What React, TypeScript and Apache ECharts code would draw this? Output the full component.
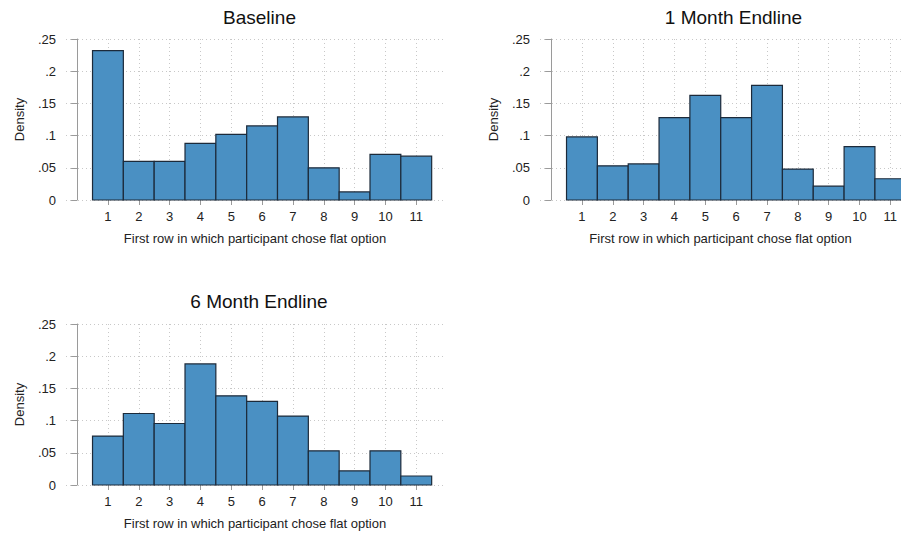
import React, { useEffect, useRef } from "react";
import * as echarts from "echarts";

const categories = [1, 2, 3, 4, 5, 6, 7, 8, 9, 10, 11];
const baseline = [0.232, 0.06, 0.06, 0.088, 0.102, 0.115, 0.129, 0.05, 0.0125, 0.071, 0.068];
const month1 = [0.098, 0.053, 0.056, 0.128, 0.1625, 0.128, 0.178, 0.048, 0.0215, 0.083, 0.033];
const month6 = [0.076, 0.111, 0.0955, 0.188, 0.1385, 0.13, 0.107, 0.053, 0.022, 0.053, 0.014];
const yTickLabels = ["0", ".05", ".1", ".15", ".2", ".25"];
const titles = ["Baseline", "1 Month Endline", "6 Month Endline"];
const xTitle = "First row in which participant chose flat option";
const yTitle = "Density";

const FONT = "'Liberation Sans', Arial, sans-serif";

export default function App() {
  const ref = useRef<HTMLDivElement>(null);
  useEffect(() => {
    if (!ref.current) return;
    const chart = echarts.init(ref.current, null, { renderer: "svg" });
    const panels = [
      { data: baseline, left: 66, top: 39, width: 378, max: 11.9, cx: 254.5, ty: 3 },
      { data: month1, left: 540, top: 39, width: 361, max: 11.345, cx: 728.5, ty: 3 },
      { data: month6, left: 66, top: 324, width: 378, max: 11.9, cx: 254, ty: 287 },
    ];
    const grid = panels.map((p) => ({ left: p.left, top: p.top, width: p.width, height: 161 }));
    const xAxis = panels.map((p, i) => ({
      type: "value",
      gridIndex: i,
      min: -0.36,
      max: p.max,
      offset: 1,
      axisLine: { show: false },
      axisTick: { show: true, customValues: categories, length: 5, lineStyle: { color: "#9a9a9a" } },
      axisLabel: { customValues: categories, fontSize: 13, color: "#222", fontFamily: FONT, margin: 9 },
      splitLine: { show: true, lineStyle: { color: "#c8c8c8", type: [1, 3], width: 1 } },
      name: xTitle,
      nameLocation: "middle",
      nameGap: 31,
      nameTextStyle: { fontSize: 13, color: "#222", fontFamily: FONT },
    }));
    const yAxis = panels.map((p, i) => ({
      type: "value",
      gridIndex: i,
      min: 0,
      max: 0.25,
      interval: 0.05,
      axisLine: { show: true, lineStyle: { color: "#9a9a9a" } },
      axisTick: { show: true, length: 6, lineStyle: { color: "#9a9a9a" } },
      axisLabel: {
        fontSize: 13,
        color: "#222",
        fontFamily: FONT,
        margin: 10,
        formatter: (_v: number, idx: number) => yTickLabels[idx],
      },
      splitLine: { show: true, lineStyle: { color: "#c8c8c8", type: [1, 3], width: 1 } },
      name: yTitle,
      nameLocation: "middle",
      nameGap: 40,
      nameTextStyle: { fontSize: 13, color: "#222", fontFamily: FONT },
    }));
    const series = panels.map((p, i) => ({
      type: "custom",
      xAxisIndex: i,
      yAxisIndex: i,
      clip: false,
      data: categories.map((c, k) => [c, p.data[k]]),
      renderItem: (params: any, api: any) => {
        const x = api.value(0);
        const y = api.value(1);
        const p0 = api.coord([x - 0.5, y]);
        const p1 = api.coord([x + 0.5, 0]);
        return {
          type: "rect",
          shape: { x: p0[0], y: p0[1], width: p1[0] - p0[0], height: p1[1] - p0[1] },
          style: { fill: "#4a90c3", stroke: "#1c2a3a", lineWidth: 1.2 },
        };
      },
    }));
    const title = panels.map((p, i) => ({
      text: titles[i],
      left: p.cx,
      top: p.ty,
      textAlign: "center",
      textStyle: { fontSize: 19, fontWeight: "normal", color: "#111", fontFamily: FONT },
    }));
    chart.setOption({
      animation: false,
      backgroundColor: "#ffffff",
      title,
      grid,
      xAxis,
      yAxis,
      series,
    } as any);
    return () => chart.dispose();
  }, []);
  return (
    <div
      ref={ref}
      style={{ position: "fixed", left: 0, top: 0, width: 901, height: 535 }}
    />
  );
}
